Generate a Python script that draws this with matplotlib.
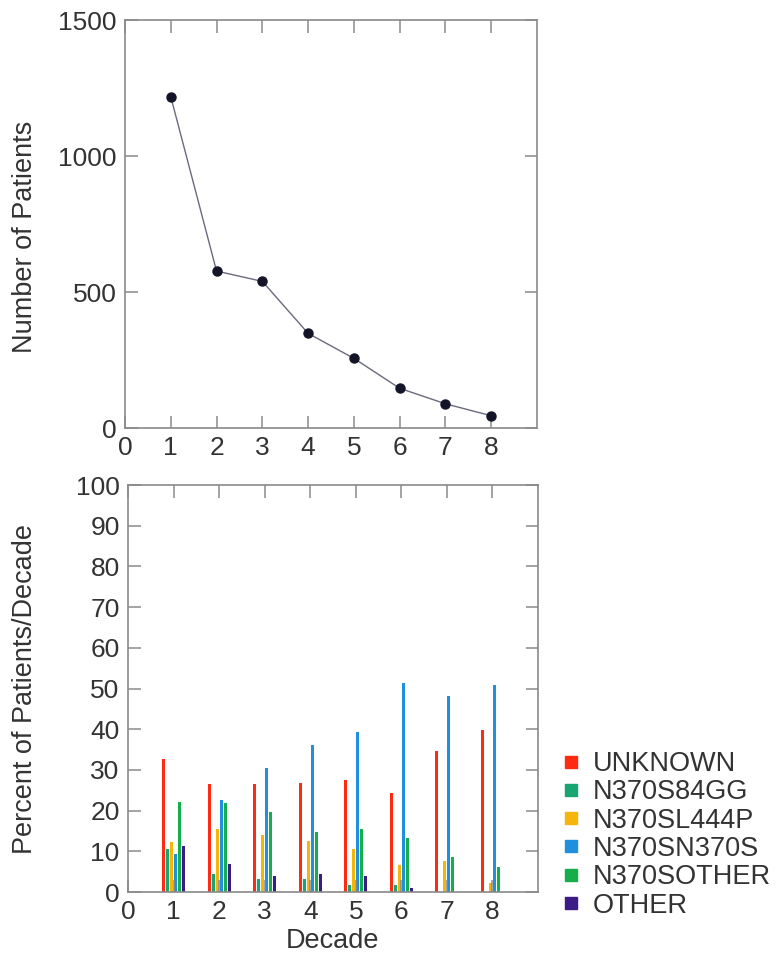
import matplotlib
matplotlib.use("Agg")
import matplotlib.pyplot as plt
from matplotlib.lines import Line2D
import numpy as np

plt.rcParams['font.family'] = ['Liberation Sans', 'DejaVu Sans']

decades = [1, 2, 3, 4, 5, 6, 7, 8]
patients = [1218, 577, 539, 348, 256, 146, 89, 45]

series_names = ["UNKNOWN", "N370S84GG", "N370SL444P", "N370SN370S", "N370SOTHER", "OTHER"]
unknown    = [32.6, 26.5, 26.5, 26.9, 27.5, 24.4, 34.7, 39.8]
n370s84gg  = [10.5, 4.4, 3.1, 3.3, 1.7, 1.6, 0.0, 0.0]
n370sl444p = [12.4, 15.5, 14.0, 12.5, 10.5, 6.6, 7.5, 2.1]
n370sn370s = [9.3, 22.6, 30.5, 36.1, 39.4, 51.3, 48.2, 50.9]
n370sother = [22.0, 21.8, 19.7, 14.7, 15.4, 13.3, 8.5, 6.2]
other      = [11.3, 7.0, 3.9, 4.4, 3.9, 1.0, 0.0, 0.0]
series = [unknown, n370s84gg, n370sl444p, n370sn370s, n370sother, other]
colors = ["#FF2A12", "#17A672", "#F5B50A", "#1E90DD", "#16AE4A", "#3B1B86"]

x_ticks = [0, 1, 2, 3, 4, 5, 6, 7, 8]
top_yticks = [0, 500, 1000, 1500]
bot_yticks = [0, 10, 20, 30, 40, 50, 60, 70, 80, 90, 100]

W, H = 778, 956
fig = plt.figure(figsize=(W / 100, H / 100), dpi=100)

spine_c = "#8a8a8a"
text_c = "#333333"

def style(ax):
    for s in ax.spines.values():
        s.set_color(spine_c)
        s.set_linewidth(1.2)
    ax.tick_params(direction='in', length=9, width=1.1, color=spine_c,
                   labelcolor=text_c, labelsize=19, top=True, right=True,
                   pad=6)

# top axes
ax1 = fig.add_axes([125 / W, 1 - 428 / H, 412 / W, 408 / H])
ax1.plot(decades, patients, color="#6a6a80", lw=1.0, marker='o',
         markersize=6.5, markerfacecolor="#141428", markeredgecolor="#141428")
ax1.set_xlim(0, 9)
ax1.set_ylim(0, 1500)
ax1.set_xticks(x_ticks)
ax1.set_yticks(top_yticks)
style(ax1)
ax1.set_ylabel("Number of Patients", fontsize=19.5, color=text_c)
ax1.yaxis.set_label_coords(-0.212, 0.468)

# bottom axes
ax2 = fig.add_axes([128 / W, 1 - 892 / H, 410 / W, 407 / H])
n = len(series)
step = 0.088
bw = 0.066
for i, (vals, c, name) in enumerate(zip(series, colors, series_names)):
    offs = (i - (n - 1) / 2) * step
    ax2.bar(np.array(decades) + offs, vals, width=bw, color=c, label=name)
ax2.set_xlim(0, 9)
ax2.set_ylim(0, 100)
ax2.set_xticks(x_ticks)
ax2.set_yticks(bot_yticks)
style(ax2)
ax2.set_ylabel("Percent of Patients/Decade", fontsize=19.5, color=text_c)
ax2.yaxis.set_label_coords(-0.22, 0.5)
ax2.set_xlabel("Decade", fontsize=19.5, color=text_c, labelpad=3)

handles = [Line2D([0], [0], marker='s', linestyle='none', markersize=8,
                  markerfacecolor=c, markeredgecolor=c) for c in colors]
leg = fig.legend(handles, series_names, loc='upper left',
                 bbox_to_anchor=(563 / W, 1 - 751 / H), frameon=False,
                 fontsize=19.5, handlelength=0.6, handletextpad=0.5,
                 labelspacing=0.085, borderaxespad=0, borderpad=0)
for t in leg.get_texts():
    t.set_color(text_c)

fig.savefig("out.png", dpi=100)
